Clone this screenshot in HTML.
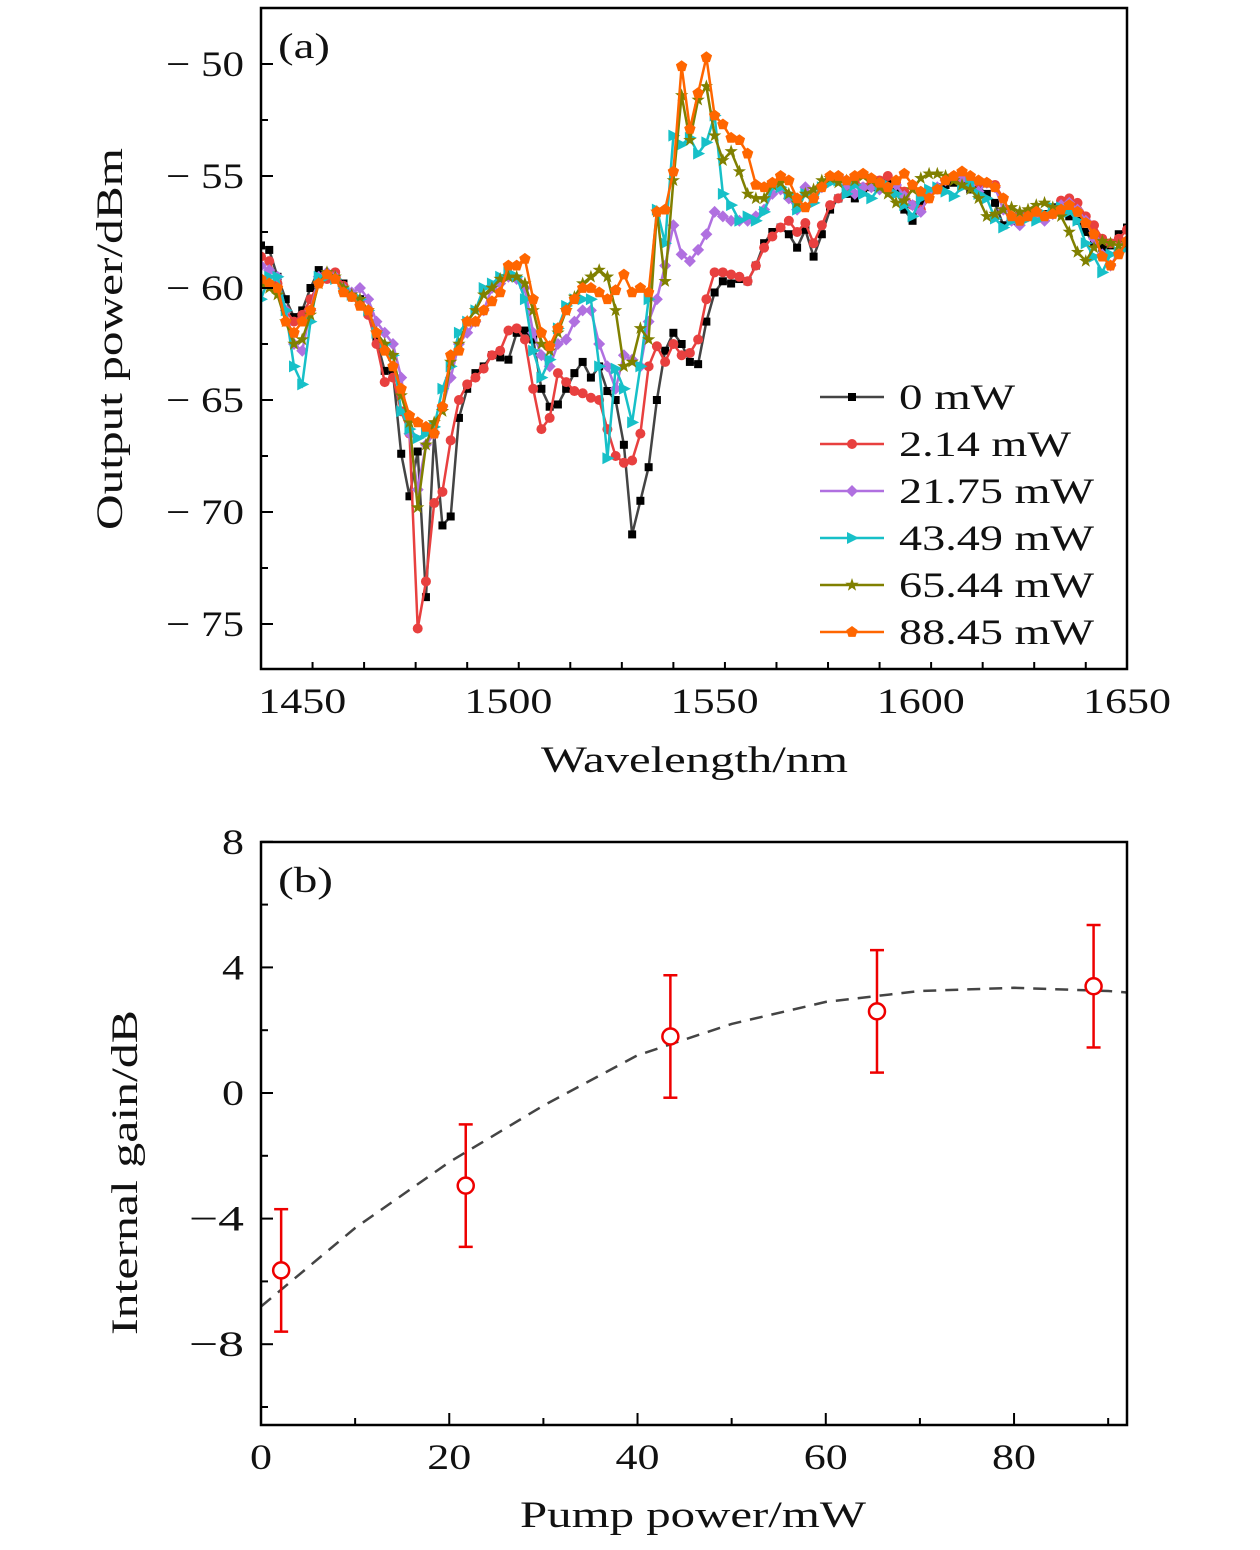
<!DOCTYPE html>
<html><head><meta charset="utf-8"><style>
html,body{margin:0;padding:0;background:#fff}
svg{display:block}
text{font-family:"Liberation Serif",serif;fill:#111}
</style></head><body>
<svg id="chart" width="1260" height="1550" viewBox="0 0 1260 1550" xmlns="http://www.w3.org/2000/svg"></svg>
<script>
const wl=[];for(let w=1440;w<=1650;w+=2)wl.push(w);
const labels=["0 mW","2.14 mW","21.75 mW","43.49 mW","65.44 mW","88.45 mW"];
const s0=[-58.1,-58.3,-59.5,-60.5,-61.3,-61.0,-60.0,-59.2,-59.4,-59.5,-59.8,-60.3,-60.5,-61.0,-62.3,-63.7,-63.8,-67.4,-69.3,-67.3,-73.8,-66.5,-70.6,-70.2,-65.8,-64.5,-63.8,-63.5,-63.0,-63.1,-63.2,-62.0,-61.9,-62.3,-64.5,-65.3,-65.2,-64.5,-63.8,-63.3,-64.0,-63.5,-64.6,-65.0,-67.0,-71.0,-69.5,-68.0,-65.0,-62.8,-62.0,-62.5,-63.3,-63.4,-61.5,-60.2,-59.7,-59.8,-59.6,-59.7,-59.0,-58.0,-57.5,-57.3,-57.6,-58.2,-57.4,-58.6,-57.6,-56.5,-56.0,-55.8,-56.0,-55.7,-55.5,-55.2,-55.3,-55.6,-56.5,-57.0,-56.2,-55.8,-55.5,-55.4,-55.3,-55.4,-55.6,-55.5,-55.8,-56.2,-57.2,-57.0,-56.8,-56.7,-56.9,-56.7,-56.4,-56.6,-56.8,-57.0,-57.5,-58.0,-58.2,-58.1,-57.6,-57.3];
const s1=[-58.6,-58.8,-59.8,-61.0,-61.5,-61.2,-60.5,-59.8,-59.6,-59.3,-59.9,-60.4,-60.6,-61.2,-62.5,-64.2,-64.0,-65.5,-66.5,-75.2,-73.1,-69.6,-69.1,-66.8,-65.0,-64.3,-64.0,-63.6,-63.0,-62.8,-61.9,-61.8,-62.3,-64.5,-66.3,-65.8,-63.8,-64.2,-64.6,-64.7,-64.9,-65.0,-66.3,-67.5,-67.8,-67.7,-66.5,-63.5,-62.6,-63.3,-62.5,-63.0,-62.9,-62.3,-60.5,-59.3,-59.3,-59.4,-59.5,-59.7,-59.0,-58.2,-57.7,-57.3,-57.0,-57.5,-57.1,-58.0,-57.2,-56.3,-56.0,-55.5,-55.3,-55.5,-55.2,-55.2,-55.0,-55.3,-55.7,-56.3,-56.5,-56.0,-55.6,-55.2,-55.0,-55.1,-55.1,-55.3,-55.3,-55.4,-56.0,-56.9,-56.7,-56.6,-56.6,-56.8,-56.5,-56.1,-56.0,-56.2,-56.8,-57.2,-57.8,-58.0,-57.8,-57.4];
const s2=[-59.0,-59.2,-59.5,-61.0,-62.5,-62.8,-61.0,-59.5,-59.3,-59.5,-60.0,-60.2,-60.0,-60.5,-61.5,-62.0,-62.5,-64.0,-66.5,-69.0,-67.0,-66.5,-65.3,-64.0,-62.5,-62.0,-61.5,-61.0,-60.0,-59.8,-59.5,-59.6,-60.0,-62.0,-63.0,-63.5,-62.5,-62.3,-61.5,-61.0,-61.0,-62.5,-63.5,-64.5,-63.0,-63.2,-63.5,-61.5,-60.5,-59.0,-57.2,-58.5,-58.8,-58.3,-57.6,-56.6,-56.8,-57.0,-57.0,-57.0,-56.8,-56.5,-55.8,-55.6,-56.0,-56.5,-55.5,-56.0,-55.5,-55.2,-55.0,-55.4,-55.8,-55.5,-55.5,-55.6,-55.5,-55.4,-55.9,-56.3,-56.6,-55.8,-55.5,-55.2,-55.0,-55.1,-55.4,-55.7,-55.3,-55.5,-56.5,-57.0,-57.2,-56.8,-56.8,-57.0,-56.7,-56.3,-56.2,-56.5,-57.0,-57.8,-58.5,-59.0,-58.4,-58.0];
const s3=[-60.5,-59.5,-59.5,-61.0,-63.5,-64.3,-61.5,-59.5,-59.5,-59.6,-60.0,-60.3,-60.5,-61.0,-62.0,-62.5,-63.0,-65.5,-66.3,-66.7,-66.5,-66.2,-64.5,-63.5,-62.0,-61.5,-61.0,-60.0,-59.8,-59.5,-59.3,-59.5,-60.5,-62.8,-64.0,-63.2,-61.8,-60.8,-60.5,-60.5,-60.5,-63.5,-67.6,-63.6,-64.5,-66.0,-63.5,-60.5,-56.5,-58.0,-53.2,-53.6,-53.3,-54.0,-53.5,-52.3,-55.8,-56.3,-57.0,-56.8,-57.0,-56.6,-55.5,-55.5,-55.8,-56.5,-55.8,-56.2,-55.5,-55.3,-55.2,-55.8,-55.4,-55.8,-56.0,-55.5,-55.4,-55.8,-56.3,-56.8,-56.0,-55.6,-55.5,-55.7,-55.9,-55.5,-55.3,-55.8,-56.0,-56.9,-57.3,-57.0,-56.9,-56.9,-57.0,-56.7,-56.4,-56.4,-56.6,-57.0,-58.0,-58.6,-59.3,-58.5,-58.4,-58.2];
const s4=[-59.8,-60.0,-60.3,-61.5,-62.5,-62.3,-61.2,-59.8,-59.3,-59.5,-60.0,-60.3,-60.5,-61.0,-62.0,-62.5,-63.0,-64.8,-66.0,-69.8,-67.0,-66.0,-65.5,-63.3,-62.5,-61.5,-61.0,-60.3,-60.0,-59.6,-59.5,-59.5,-59.8,-61.0,-62.5,-62.8,-62.0,-61.0,-60.4,-59.8,-59.5,-59.2,-59.5,-61.0,-63.5,-63.3,-61.8,-62.3,-56.6,-59.7,-55.2,-51.4,-53.4,-51.6,-51.0,-53.2,-54.3,-53.9,-54.8,-55.8,-56.0,-56.0,-55.4,-55.3,-55.8,-56.2,-55.8,-55.6,-55.2,-55.1,-55.3,-55.2,-55.2,-55.0,-55.2,-55.5,-55.8,-56.2,-56.1,-55.6,-55.1,-54.9,-54.9,-55.0,-55.2,-55.4,-55.6,-56.0,-56.8,-56.7,-56.5,-56.4,-56.6,-56.5,-56.3,-56.2,-56.4,-56.8,-57.5,-58.4,-58.8,-58.2,-57.9,-58.0,-58.1,-58.0];
const s5=[-59.6,-59.8,-60.0,-61.5,-62.0,-61.5,-61.0,-59.8,-59.4,-59.6,-60.2,-60.4,-60.8,-61.0,-62.0,-62.8,-63.5,-64.5,-65.7,-66.0,-66.2,-66.5,-65.3,-63.0,-62.8,-61.5,-61.5,-61.0,-60.6,-60.2,-59.0,-59.0,-58.7,-60.5,-62.0,-62.6,-61.8,-61.0,-60.5,-60.0,-60.0,-60.2,-60.5,-60.1,-59.4,-60.2,-60.0,-60.2,-56.6,-56.5,-54.8,-50.1,-52.9,-51.3,-49.7,-52.3,-52.7,-53.3,-53.4,-54.0,-55.4,-55.5,-55.3,-55.0,-55.2,-56.0,-56.4,-56.0,-55.5,-55.0,-55.0,-55.2,-55.0,-54.9,-55.1,-55.3,-55.5,-55.2,-54.9,-55.4,-55.7,-56.0,-55.6,-55.2,-55.0,-54.8,-55.0,-55.2,-55.3,-55.5,-56.0,-56.8,-57.0,-56.8,-56.6,-56.8,-56.7,-56.5,-56.3,-56.6,-57.1,-57.6,-58.6,-59.0,-58.5,-57.9];
const pump=[2.14,21.75,43.49,65.44,88.45];
const gain=[-5.65,-2.95,1.8,2.6,3.4];
const gainErr=[1.95,1.95,1.95,1.95,1.95];
const fitX=[0,10,20,30,40,50,60,70,80,90,92];
const fitY=[-6.8,-4.3,-2.2,-0.4,1.2,2.2,2.9,3.25,3.35,3.25,3.2];
const xTicksA=[1450,1500,1550,1600,1650];
const yTicksA=[-50,-55,-60,-65,-70,-75];
const xTicksB=[0,20,40,60,80];
const yTicksB=[8,4,0,-4,-8];

const NS="http://www.w3.org/2000/svg";
const svg=document.getElementById('chart');
function mk(tag,attrs,parent,txt){const e=document.createElementNS(NS,tag);for(const k in attrs)e.setAttribute(k,attrs[k]);if(txt!==undefined)e.textContent=txt;(parent||svg).appendChild(e);return e;}
function fit(e,len){e.setAttribute('textLength',len);e.setAttribute('lengthAdjust','spacingAndGlyphs');return e;}
const ax={l:261,r:1127,t:8,b:669};
const xA=w=>ax.l+(w-1440)*(ax.r-ax.l)/210;
const yA=v=>64+(-50-v)*22.4;
const bx={l:261,r:1127,t:842,b:1425};
const xB=p=>bx.l+p*(bx.r-bx.l)/92;
const yB=g=>1093-g*31.4;

const gA=mk('g',{});
const colors=["#444","#e8403f","#b070e0","#17c0c8","#808000","#ff6600"];
const mcolors=["#000","#e8403f","#b070e0","#17c0c8","#808000","#ff6600"];
const series=[s0,s1,s2,s3,s4,s5];
const clip=mk('clipPath',{id:'ca'},gA);mk('rect',{x:ax.l,y:ax.t,width:ax.r-ax.l,height:ax.b-ax.t},clip);
function marker(k,x,y,parent){
  const c=mcolors[k];let e;
  if(k===0)e=mk('rect',{x:x-4,y:y-4,width:8,height:8,fill:c},parent);
  else if(k===1)e=mk('circle',{cx:x,cy:y,r:5,fill:c},parent);
  else if(k===2)e=mk('polygon',{points:`${x},${y-6} ${x+6},${y} ${x},${y+6} ${x-6},${y}`,fill:c},parent);
  else if(k===3)e=mk('polygon',{points:`${x+7},${y} ${x-5},${y-6} ${x-5},${y+6}`,fill:c},parent);
  else if(k===4){let p=[];for(let i=0;i<10;i++){const r=i%2?2.8:7,a=-Math.PI/2+i*Math.PI/5;p.push((x+r*Math.cos(a)).toFixed(1)+','+(y+r*Math.sin(a)).toFixed(1));}e=mk('polygon',{points:p.join(' '),fill:c},parent);}
  else {let p=[];for(let i=0;i<5;i++){const a=-Math.PI/2+i*2*Math.PI/5;p.push((x+6*Math.cos(a)).toFixed(1)+','+(y+6*Math.sin(a)).toFixed(1));}e=mk('polygon',{points:p.join(' '),fill:c},parent);}
  return e;
}
series.forEach((s,k)=>{
  const g=mk('g',{'clip-path':'url(#ca)'},gA);
  
  
  const n=Math.min(s.length,wl.length);
  let d='';for(let i=0;i<n;i++)d+=(i?'L':'M')+xA(wl[i]).toFixed(1)+','+yA(s[i]).toFixed(1);
  const p=mk('path',{d:d,fill:'none',stroke:colors[k],'stroke-width':2.5},g);
  
  for(let i=0;i<n;i++){const m=marker(k,xA(wl[i]),yA(s[i]),g);}
});
mk('rect',{x:ax.l,y:ax.t,width:ax.r-ax.l,height:ax.b-ax.t,fill:'none',stroke:'#000','stroke-width':2.5},gA);
for(let w=1440;w<=1650;w+=12.5){const x=xA(w);const maj=xTicksA.includes(w);mk('line',{x1:x,x2:x,y1:ax.b,y2:ax.b-(maj?12:7),stroke:'#000','stroke-width':2},gA);}
xTicksA.forEach(w=>{const t=fit(mk('text',{x:xA(w)-44,y:713,'font-size':36},gA,String(w)),88);});
for(let v=-47.5;v>=-77.5;v-=2.5){const y=yA(v);if(y<ax.t||y>ax.b)continue;const maj=v%5===0;mk('line',{x1:ax.l,x2:ax.l+(maj?12:7),y1:y,y2:y,stroke:'#000','stroke-width':2},gA);}
yTicksA.forEach(v=>{const t=fit(mk('text',{x:166,y:yA(v)+12,'font-size':36},gA,"\u2212 "+Math.abs(v)),78);});
let t=fit(mk('text',{x:541,y:772,'font-size':37},gA,'Wavelength/nm'),307);
t=fit(mk('text',{x:-530,y:122,'font-size':37,transform:'rotate(-90)'},gA,'Output power/dBm'),382);
t=fit(mk('text',{x:278,y:58,'font-size':36},gA,'(a)'),52);
const lg=mk('g',{},gA);
const lgW=[116,172,195,195,195,195];
labels.forEach((l,k)=>{const y=397+k*47;const e=mk('g',{},lg);
  mk('line',{x1:820,x2:884,y1:y,y2:y,stroke:colors[k],'stroke-width':2.5},e);marker(k,852,y,e);
  fit(mk('text',{x:899,y:y+12,'font-size':36},e,l),lgW[k]);});

const gB=mk('g',{});
const clipb=mk('clipPath',{id:'cb'},gB);mk('rect',{x:bx.l,y:bx.t,width:bx.r-bx.l,height:bx.b-bx.t},clipb);
let fd='';fitX.forEach((x,i)=>{fd+=(i?'L':'M')+xB(x).toFixed(1)+','+yB(fitY[i]).toFixed(1);});
const fp=mk('path',{d:fd,fill:'none',stroke:'#444','stroke-width':2.5,'stroke-dasharray':'13,9','clip-path':'url(#cb)'},gB);

pump.forEach((p,i)=>{const g=mk('g',{},gB);
  const x=xB(p),y1=yB(gain[i]+gainErr[i]),y2=yB(gain[i]-gainErr[i]);
  mk('line',{x1:x,x2:x,y1:y1,y2:y2,stroke:'#e00','stroke-width':2.5},g);
  mk('line',{x1:x-7,x2:x+7,y1:y1,y2:y1,stroke:'#e00','stroke-width':2.5},g);
  mk('line',{x1:x-7,x2:x+7,y1:y2,y2:y2,stroke:'#e00','stroke-width':2.5},g);
  mk('circle',{cx:x,cy:yB(gain[i]),r:8,fill:'#fff',stroke:'#e00','stroke-width':2.5},g);});
mk('rect',{x:bx.l,y:bx.t,width:bx.r-bx.l,height:bx.b-bx.t,fill:'none',stroke:'#000','stroke-width':2.5},gB);
for(let p=0;p<=92;p+=10){const x=xB(p);const maj=p%20===0;mk('line',{x1:x,x2:x,y1:bx.b,y2:bx.b-(maj?12:7),stroke:'#000','stroke-width':2},gB);}
xTicksB.forEach(p=>{const s=String(p);const w=s.length*22;const t=fit(mk('text',{x:xB(p)-w/2,y:1469,'font-size':36},gB,s),w);});
for(let v=8;v>=-10;v-=2){const y=yB(v);const maj=v%4===0;mk('line',{x1:bx.l,x2:bx.l+(maj?12:7),y1:y,y2:y,stroke:'#000','stroke-width':2},gB);}
yTicksB.forEach(v=>{const s=v<0?"\u2212"+Math.abs(v):String(v);const w=v<0?55:22;const t=fit(mk('text',{x:244-w,y:yB(v)+12,'font-size':36},gB,s),w);});
t=fit(mk('text',{x:520,y:1527,'font-size':37},gB,'Pump power/mW'),346);
t=fit(mk('text',{x:-1335,y:137,'font-size':37,transform:'rotate(-90)'},gB,'Internal gain/dB'),325);
t=fit(mk('text',{x:278,y:892,'font-size':36},gB,'(b)'),55);
</script>
</body></html>
